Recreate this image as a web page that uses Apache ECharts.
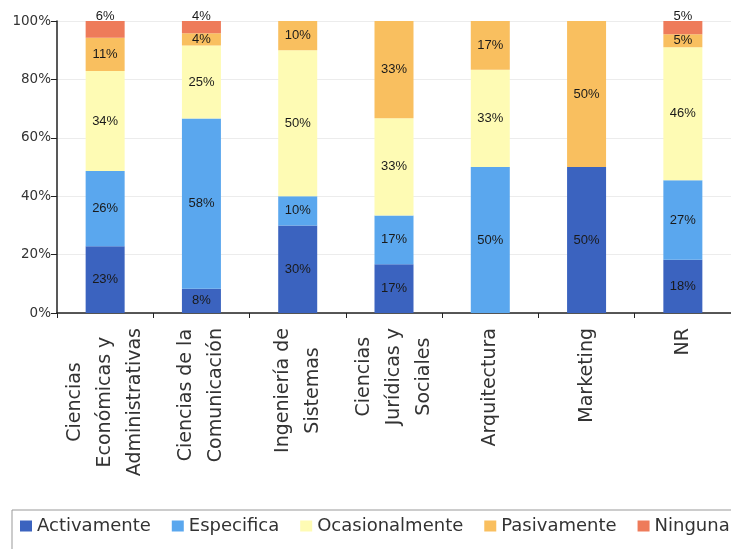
<!DOCTYPE html>
<html>
<head>
<meta charset="utf-8">
<script src="https://cdn.jsdelivr.net/npm/echarts@6/dist/echarts.min.js"></script>
<style>
html,body{margin:0;padding:0;background:#fff;}
#chart{width:731px;height:549px;}
</style>
</head>
<body>
<div id="chart"></div>
<script>
var categories = [
  "Ciencias\nEconómicas y\nAdministrativas",
  "Ciencias de la\nComunicación",
  "Ingeniería de\nSistemas",
  "Ciencias\nJurídicas y\nSociales",
  "Arquitectura",
  "Marketing",
  "NR"
];
var seriesNames = ["Activamente", "Especifica", "Ocasionalmente", "Pasivamente", "Ninguna"];
var activamente    = [22.9, 8.3, 30, 16.7, 0, 50, 18.2];
var especifica     = [25.7, 58.3, 10, 16.7, 50, 0, 27.3];
var ocasionalmente = [34.3, 25.0, 50, 33.3, 33.3, 0, 45.5];
var pasivamente    = [11.4, 4.2, 10, 33.3, 16.7, 50, 4.5];
var ninguna        = [5.7, 4.2, 0, 0, 0, 0, 4.5];
var yTicks = [0, 20, 40, 60, 80, 100];

var colors = ["#3B63BF", "#5AA7EE", "#FEFBB4", "#F9BF5F", "#EE7B5A"];
var values = [activamente, especifica, ocasionalmente, pasivamente, ninguna];

function labelFmt(p) {
  return p.value > 0 ? Math.round(p.value) + "%" : "";
}

var series = seriesNames.map(function (name, i) {
  var isTop = (i === 4);
  return {
    name: name,
    type: "bar",
    stack: "total",
    barWidth: 39,
    data: values[i],
    itemStyle: { color: colors[i] },
    label: {
      show: true,
      position: isTop ? "top" : "inside",
      distance: isTop ? -2 : 5,
      formatter: labelFmt,
      fontFamily: "Liberation Sans",
      fontSize: 13,
      color: "#1a1a1a"
    }
  };
});

var chart = echarts.init(document.getElementById("chart"), null, { renderer: "canvas" });
chart.setOption({
  backgroundColor: "#ffffff",
  animation: false,
  grid: { left: 57, right: -3, top: 21, bottom: 236, containLabel: false },
  legend: {
    data: seriesNames,
    orient: "horizontal",
    left: 12,
    top: 510,
    width: 740,
    padding: [7, 40, 30, 8],
    borderColor: "#999",
    borderWidth: 1,
    itemWidth: 12,
    itemHeight: 11,
    itemGap: 21,
    icon: "rect",
    textStyle: { fontFamily: "DejaVu Sans", fontSize: 18, color: "#333" }
  },
  xAxis: {
    type: "category",
    data: categories,
    axisLine: { lineStyle: { color: "#222", width: 1.5 } },
    axisTick: { show: true, length: 5, lineStyle: { color: "#222" } },
    axisLabel: {
      rotate: 90,
      margin: 15,
      interval: 0,
      formatter: function (v) {
        return v.split("\n").map(function (l) { return "{c|" + l + "}"; }).join("\n");
      },
      rich: {
        c: { align: "center", fontFamily: "DejaVu Sans", fontSize: 19, lineHeight: 30, color: "#333" }
      }
    }
  },
  yAxis: {
    type: "value",
    min: yTicks[0],
    max: yTicks[yTicks.length - 1],
    interval: 20,
    axisLine: { show: true, lineStyle: { color: "#222", width: 1.5 } },
    axisTick: { show: true, length: 6, lineStyle: { color: "#222" } },
    axisLabel: {
      formatter: "{value}%",
      margin: 6,
      fontFamily: "DejaVu Sans",
      fontSize: 13.5,
      color: "#333"
    },
    splitLine: { show: true, lineStyle: { color: "#ececec", width: 1 } }
  },
  series: series
});
</script>
</body>
</html>
